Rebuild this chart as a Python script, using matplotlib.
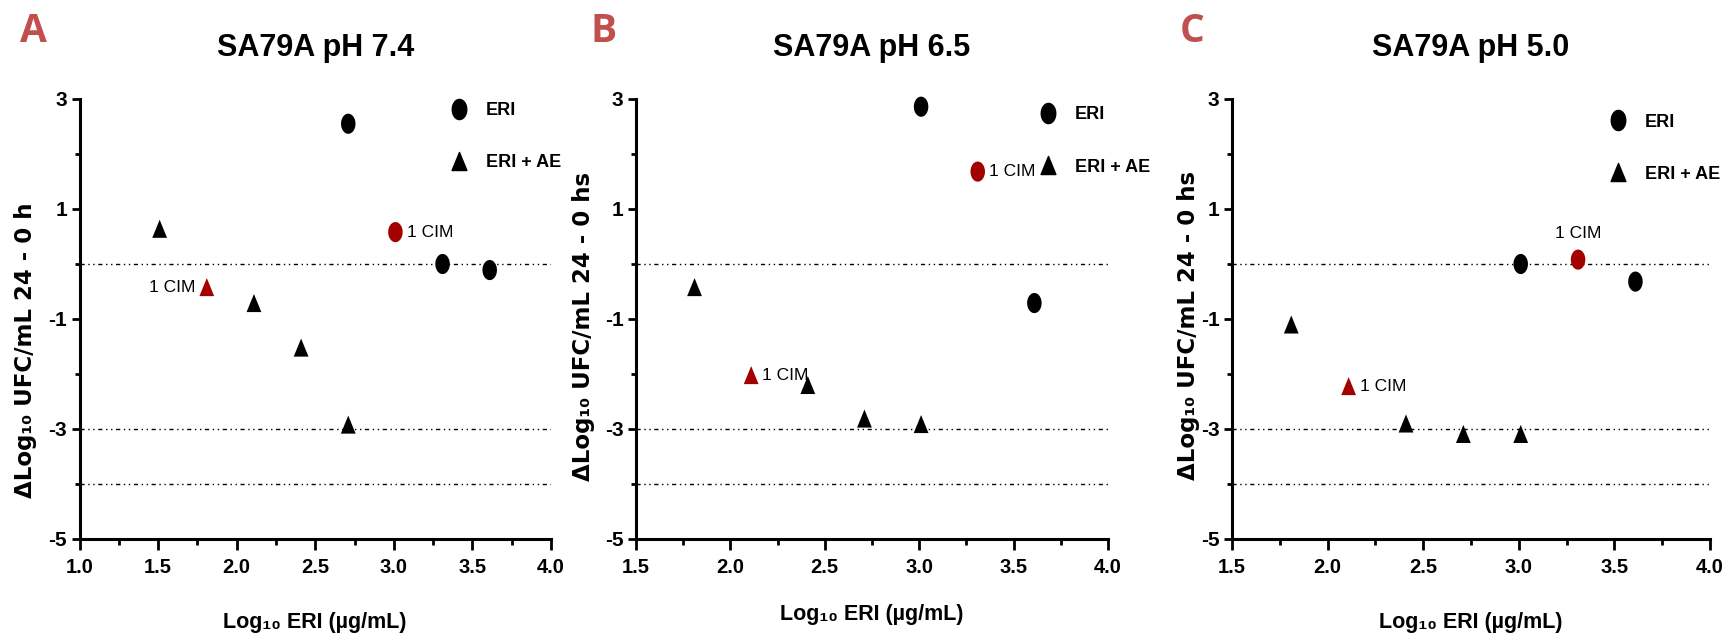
import matplotlib
matplotlib.use("Agg")
import matplotlib.pyplot as plt
from matplotlib import font_manager
from matplotlib.path import Path
from matplotlib.lines import Line2D
import numpy as np

# ---- data: log10 ERI concentration vs change in log10 UFC/mL (24 h - 0 h) ----
x_eri_a = [2.71, 3.01, 3.31, 3.61]
y_eri_a = [2.55, 0.58, 0.0, -0.11]
x_ae_a = [1.51, 1.81, 2.11, 2.41, 2.71]
y_ae_a = [0.64, -0.42, -0.71, -1.52, -2.92]
cim_eri_a, cim_ae_a = 1, 1          # index of the point at 1 CIM

x_eri_b = [3.01, 3.31, 3.61]
y_eri_b = [2.86, 1.68, -0.71]
x_ae_b = [1.81, 2.11, 2.41, 2.71, 3.01]
y_ae_b = [-0.42, -2.02, -2.20, -2.81, -2.91]
cim_eri_b, cim_ae_b = 1, 1

x_eri_c = [3.01, 3.31, 3.61]
y_eri_c = [0.0, 0.08, -0.32]
x_ae_c = [1.81, 2.11, 2.41, 2.71, 3.01]
y_ae_c = [-1.10, -2.22, -2.90, -3.09, -3.09]
cim_eri_c, cim_ae_c = 1, 1

panel_letters = ["A", "B", "C"]
titles = ["SA79A pH 7.4", "SA79A pH 6.5", "SA79A pH 5.0"]
ylabels = ["ΔLog₁₀ UFC/mL 24 - 0 h", "ΔLog₁₀ UFC/mL 24 - 0 hs", "ΔLog₁₀ UFC/mL 24 - 0 hs"]
xlabel = "Log₁₀ ERI (µg/mL)"
x_starts = [1.0, 1.5, 1.5]
x_end = 4.0
y_range = (-5, 3)
y_major = [3, 1, -1, -3, -5]
y_minor = [2, 0, -2, -4]
ref_lines = [0, -3, -4]
series_labels = ["ERI", "ERI + AE"]
cim_label = "1 CIM"

# ---- fonts ----
available = {f.name for f in font_manager.fontManager.ttflist}
NARROW = "Liberation Sans Narrow" if "Liberation Sans Narrow" in available else "Liberation Sans"
plt.rcParams["font.family"] = [NARROW, "DejaVu Sans"]
plt.rcParams["font.weight"] = "bold"

RED = "#A30000"
LETTER_RED = "#C0504D"

# slightly tall marker shapes
t = np.linspace(0, 2 * np.pi, 60)
ELLIPSE = Path(np.column_stack([0.72 * np.cos(t), np.sin(t)]), closed=True)
TRIANGLE = Path([(0, 1), (-0.82, -1), (0.82, -1), (0, 1)], closed=True)

W, H = 1733, 638
fig = plt.figure(figsize=(W / 100, H / 100), dpi=100)


def px_axes(left, right, top, bottom):
    return fig.add_axes([left / W, 1 - bottom / H, (right - left) / W, (bottom - top) / H])


panels = [
    dict(box=(79.5, 551), x_eri=x_eri_a, y_eri=y_eri_a, x_ae=x_ae_a, y_ae=y_ae_a,
         ce=cim_eri_a, ca=cim_ae_a, eri_off=((8, 0), "left"), ae_off=((-8, 0), "right"),
         leg=(0.786, 0.993), ylab=(26, 350), xlab_base=628, letter=(20, 42)),
    dict(box=(636, 1108), x_eri=x_eri_b, y_eri=y_eri_b, x_ae=x_ae_b, y_ae=y_ae_b,
         ce=cim_eri_b, ca=cim_ae_b, eri_off=((8, 0), "left"), ae_off=((8, 0), "left"),
         leg=(0.853, 0.983), ylab=(584, 326), xlab_base=620, letter=(590, 42)),
    dict(box=(1232, 1710), x_eri=x_eri_c, y_eri=y_eri_c, x_ae=x_ae_c, y_ae=y_ae_c,
         ce=cim_eri_c, ca=cim_ae_c, eri_off=((0, 19), "center"), ae_off=((8, 0), "left"),
         leg=(0.788, 0.967), ylab=(1189, 325), xlab_base=628, letter=(1180, 42)),
]

for i, p in enumerate(panels):
    left, right = p["box"]
    ax = px_axes(left, right, 99, 539)
    x0 = x_starts[i]
    ax.set_xlim(x0, x_end)
    ax.set_ylim(*y_range)

    for s in ["top", "right"]:
        ax.spines[s].set_visible(False)
    for s in ["left", "bottom"]:
        ax.spines[s].set_linewidth(2.2)

    # threshold reference lines
    for yv in ref_lines:
        ax.axhline(yv, color="black", lw=1.0, linestyle=(0, (3, 2.6, 1, 2.6, 1, 2.6)), zorder=1)

    # ERI alone (circles) and ERI + AE (triangles)
    eri_cols = [RED if k == p["ce"] else "black" for k in range(len(p["x_eri"]))]
    ae_cols = [RED if k == p["ca"] else "black" for k in range(len(p["x_ae"]))]
    ax.scatter(p["x_eri"], p["y_eri"], marker=ELLIPSE, s=14.5 ** 2, c=eri_cols,
               linewidths=0, zorder=3, clip_on=False)
    ax.scatter(p["x_ae"], p["y_ae"], marker=TRIANGLE, s=13 ** 2, c=ae_cols,
               linewidths=0, zorder=3, clip_on=False)

    # "1 CIM" tags on the highlighted points
    (dx, dy), ha = p["eri_off"]
    ax.annotate(cim_label, xy=(p["x_eri"][p["ce"]], p["y_eri"][p["ce"]]), xytext=(dx, dy),
                textcoords="offset points", ha=ha, va="center", fontsize=12.5, fontweight="normal")
    (dx, dy), ha = p["ae_off"]
    ax.annotate(cim_label, xy=(p["x_ae"][p["ca"]], p["y_ae"][p["ca"]]), xytext=(dx, dy),
                textcoords="offset points", ha=ha, va="center", fontsize=12.5, fontweight="normal")

    # ticks
    ax.set_xticks(np.arange(x0, x_end + 0.01, 0.5))
    ax.set_xticks(np.arange(x0 + 0.25, x_end, 0.5), minor=True)
    ax.set_xticklabels([f"{v:.1f}" for v in np.arange(x0, x_end + 0.01, 0.5)])
    ax.set_yticks(y_major)
    ax.set_yticks(y_minor, minor=True)
    ax.set_yticklabels([str(v) for v in y_major])
    ax.tick_params(axis="x", which="major", length=8, width=2, pad=6, labelsize=14.5)
    ax.tick_params(axis="x", which="minor", length=4.5, width=2)
    ax.tick_params(axis="y", which="major", length=5.5, width=2, pad=3.5, labelsize=15)
    ax.tick_params(axis="y", which="minor", length=3.5, width=2)

    # legend
    handles = [Line2D([], [], ls="none", marker=ELLIPSE, ms=14.5, color="black"),
               Line2D([], [], ls="none", marker=TRIANGLE, ms=13, color="black")]
    ax.legend(handles, series_labels, loc="upper left", bbox_to_anchor=p["leg"],
              frameon=False, borderpad=0, borderaxespad=0, handlelength=1.0,
              handletextpad=1.0, labelspacing=1.95,
              prop=dict(family=NARROW, weight="bold", size=13))

    cx = (left + right) / 2
    fig.text(cx / W, 1 - 56 / H, titles[i], ha="center", va="baseline",
             fontsize=22, fontweight="bold")
    fig.text(cx / W, 1 - p["xlab_base"] / H, xlabel, ha="center", va="baseline",
             fontsize=15.5, fontweight="bold")
    yx, yy = p["ylab"]
    fig.text(yx / W, 1 - yy / H, ylabels[i], rotation=90, ha="center", va="center",
             fontsize=16.5, fontweight="bold", family="DejaVu Sans")
    lx, ly = p["letter"]
    fig.text(lx / W, 1 - ly / H, panel_letters[i], ha="left", va="baseline",
             fontsize=28, fontweight="bold", family=["Open Sans", "DejaVu Sans"],
             color=LETTER_RED)

fig.savefig("out.png", dpi=100)
